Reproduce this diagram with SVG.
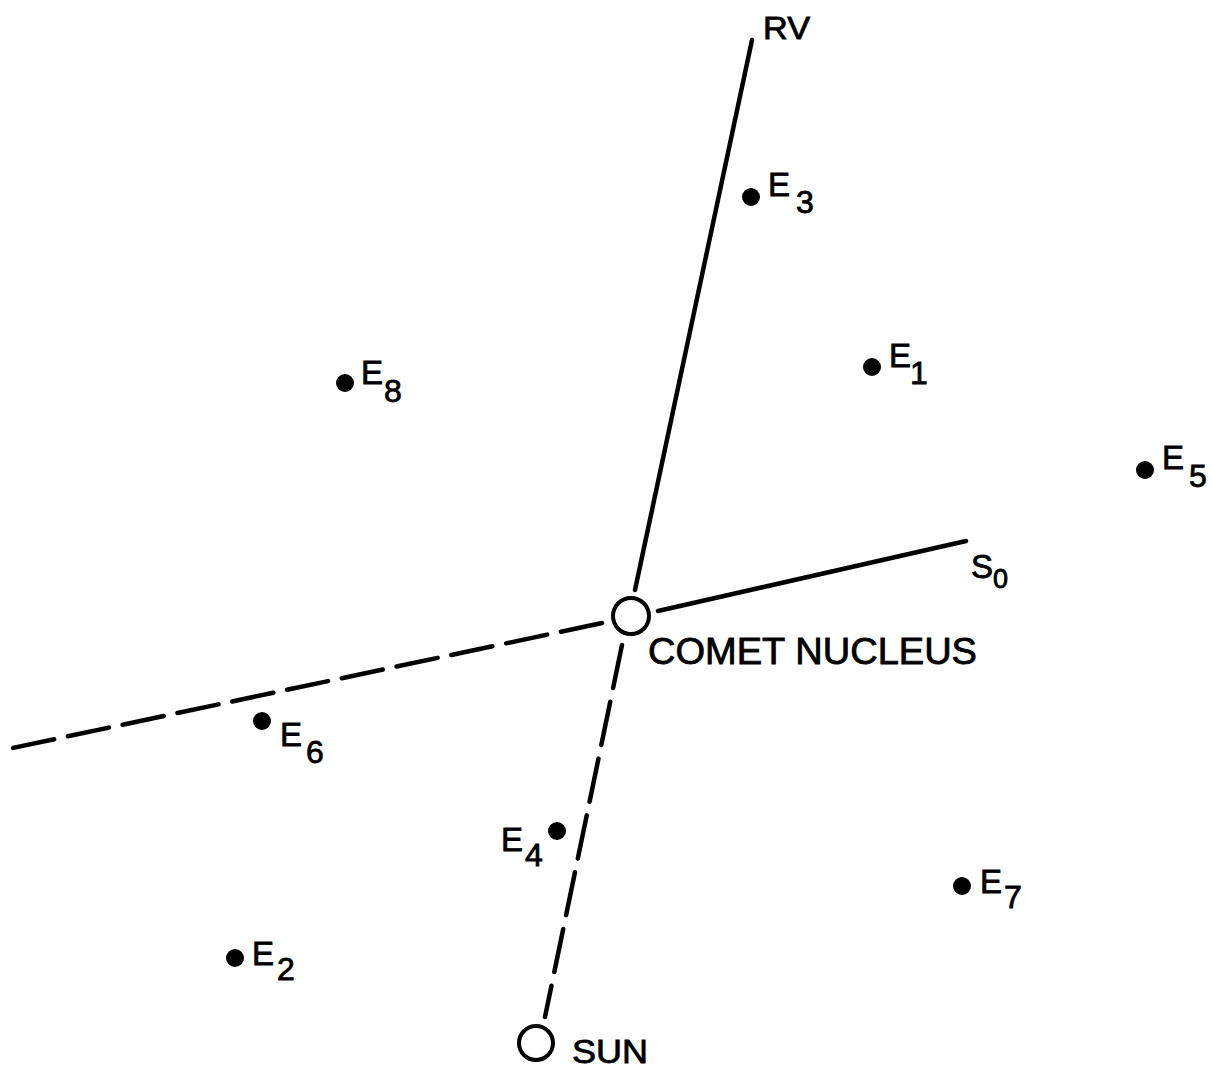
<svg xmlns="http://www.w3.org/2000/svg" width="1212" height="1069" viewBox="0 0 1212 1069">
<style>
.ln{stroke:#000;stroke-width:4.5;fill:none;stroke-linecap:round}
.dash{stroke-dasharray:42 14}
.ring{stroke:#000;stroke-width:4;fill:#fff}
.dot{fill:#000}
text{font-family:"Liberation Sans","DejaVu Sans",sans-serif;fill:#000;stroke:#000;stroke-width:0.8}
.lb{font-size:33px}
.sub{font-size:32px}
</style>
<rect width="1212" height="1069" fill="#fff"/>
<g id="connectors">
<line class="ln" x1="752" y1="40" x2="635" y2="590"/>
<line class="ln" x1="658" y1="611" x2="966" y2="541"/>
<line class="ln dash" x1="602" y1="623" x2="8" y2="749"/>
<line class="ln dash" style="stroke-dasharray:44 14" x1="622" y1="645" x2="545" y2="1017"/>
</g>
<g id="comet-nucleus">
<circle class="ring" cx="631" cy="616" r="18"/>
<text x="648" y="664" font-size="36" textLength="329" lengthAdjust="spacingAndGlyphs">COMET NUCLEUS</text>
</g>
<g id="sun">
<circle class="ring" cx="536" cy="1043" r="17"/>
<text x="572" y="1063" font-size="33" textLength="76" lengthAdjust="spacingAndGlyphs">SUN</text>
</g>
<g id="rv">
<text x="763" y="39" font-size="31" textLength="47" lengthAdjust="spacingAndGlyphs">RV</text>
</g>
<g id="s0">
<text x="971" y="578" font-size="33">S</text>
<text x="993" y="588" font-size="27">0</text>
</g>
<g id="e1"><circle class="dot" cx="872" cy="367" r="9"/><text class="lb" x="889" y="367">E</text><text class="sub" x="910" y="384">1</text></g>
<g id="e2"><circle class="dot" cx="235" cy="958" r="9"/><text class="lb" x="252" y="965">E</text><text class="sub" x="277" y="980">2</text></g>
<g id="e3"><circle class="dot" cx="751" cy="197" r="9"/><text class="lb" x="768" y="196">E</text><text class="sub" x="796" y="213">3</text></g>
<g id="e4"><circle class="dot" cx="557" cy="831" r="9"/><text class="lb" x="501" y="851">E</text><text class="sub" x="525" y="866">4</text></g>
<g id="e5"><circle class="dot" cx="1145" cy="470" r="9"/><text class="lb" x="1162" y="469">E</text><text class="sub" x="1189" y="487">5</text></g>
<g id="e6"><circle class="dot" cx="262" cy="721" r="9"/><text class="lb" x="280" y="746">E</text><text class="sub" x="306" y="763">6</text></g>
<g id="e7"><circle class="dot" cx="962" cy="886" r="9"/><text class="lb" x="980" y="893">E</text><text class="sub" x="1004" y="908">7</text></g>
<g id="e8"><circle class="dot" cx="345" cy="383" r="9"/><text class="lb" x="361" y="384">E</text><text class="sub" x="384" y="402">8</text></g>
</svg>
